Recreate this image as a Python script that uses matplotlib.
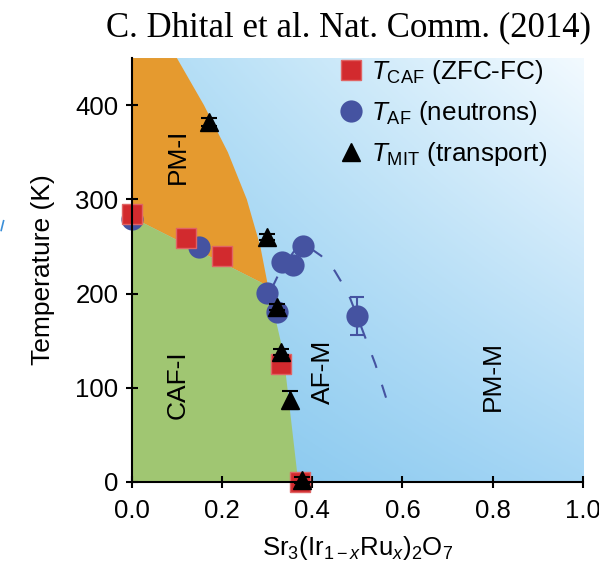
import numpy as np
import matplotlib
matplotlib.use('Agg')
import matplotlib.pyplot as plt
from matplotlib.lines import Line2D

plt.rcParams['font.family'] = ['Liberation Sans', 'DejaVu Sans']
plt.rcParams['mathtext.fontset'] = 'custom'
plt.rcParams['mathtext.rm'] = 'Liberation Sans'
plt.rcParams['mathtext.it'] = 'Liberation Sans:italic'

# T_CAF from ZFC-FC magnetization
x_caf = [0.0, 0.12, 0.2, 0.33, 0.373]
t_caf = [284, 259, 240, 125, 0]

# T_AF from neutrons
x_af = [0.0, 0.15, 0.30, 0.322, 0.333, 0.358, 0.38, 0.50]
t_af = [279, 249, 201, 180, 234, 230, 250, 176]
err_af = [0, 0, 0, 0, 0, 0, 0, 20]

# T_MIT from transport
x_mit = [0.171, 0.30, 0.322, 0.331, 0.35, 0.377]
t_mit = [382, 260, 186, 138, 87, 2]
err_mit = [4, 3, 3, 3, 10, 3]

# phase boundaries
x_pmi = [0.100, 0.160, 0.213, 0.255, 0.285, 0.302]   # PM-I / PM-M
t_pmi = [450, 400, 350, 300, 250, 208]
x_caf_b = [0.0, 0.302]                                 # CAF-I / PM-I
t_caf_b = [281, 208]
x_afm_b = [0.302, 0.336, 0.369]                        # CAF-I / AF-M
t_afm_b = [208, 137, 0]

# dashed AF dome
x_dome = [0.31, 0.33, 0.36, 0.39, 0.42, 0.45, 0.48, 0.51, 0.54, 0.57]
t_dome = [205, 225, 245, 250, 240, 224, 200, 163, 125, 80]

fig = plt.figure(figsize=(5.99, 5.69), dpi=100)
ax = fig.add_axes([0.220, 0.153, 0.753, 0.745])
ax.set_xlim(0, 1.0)
ax.set_ylim(0, 450)

# blue gradient background
u, v = np.meshgrid(np.linspace(0, 1, 200), np.linspace(0, 1, 200))
c00 = np.array([0.50, 0.77, 0.93])
c10 = np.array([0.65, 0.84, 0.96])
c01 = np.array([0.68, 0.86, 0.96])
c11 = np.array([0.95, 0.98, 1.00])
img = (c00 * ((1 - u) * (1 - v))[..., None] + c10 * (u * (1 - v))[..., None]
       + c01 * ((1 - u) * v)[..., None] + c11 * (u * v)[..., None])
ax.imshow(img, extent=[0, 1, 0, 450], origin='lower', aspect='auto', zorder=0)

# orange PM-I region
px = [0.0] + x_pmi + x_caf_b[::-1]
pt = [450] + t_pmi + t_caf_b[::-1]
ax.fill(px, pt, color='#e59a2f', lw=0, zorder=1)
# green CAF-I region
gx = [0.0] + x_caf_b + x_afm_b[1:]
gt = [0] + t_caf_b + t_afm_b[1:]
ax.fill(gx, gt, color='#a0c672', lw=0, zorder=1)

blue = '#4553a1'
ax.plot(x_dome, t_dome, color=blue, lw=1.5, ls=(0, (6.5, 8.5)), zorder=2)

ax.errorbar(x_af, t_af, yerr=err_af, fmt='none', ecolor=blue, elinewidth=1.5,
            capsize=5, capthick=1.5, zorder=3)
h_af, = ax.plot(x_af, t_af, 'o', color=blue, ms=16, mec='none', zorder=3,
                clip_on=False, label=r'$T_{\rm AF}$ (neutrons)')
h_caf, = ax.plot(x_caf, t_caf, 's', color='#d22a2e', ms=15, mec='#e06464', mew=1,
                 zorder=4, clip_on=False, label=r'$T_{\rm CAF}$ (ZFC-FC)')
ax.errorbar(x_mit, t_mit, yerr=err_mit, fmt='none', ecolor='black', elinewidth=1.5,
            capsize=6, capthick=1.5, zorder=5, clip_on=False)
h_mit, = ax.plot(x_mit, t_mit, '^', color='black', ms=13, zorder=5, clip_on=False,
                 label=r'$T_{\rm MIT}$ (transport)')

leg = ax.legend(handles=[h_caf, h_af, h_mit], loc='upper left',
                bbox_to_anchor=(0.461, 1.0), frameon=False, fontsize=18.8,
                handlelength=0.85, handletextpad=0.35, borderpad=0,
                labelspacing=0.5, borderaxespad=0)

# region labels
ax.text(0.102, 346, 'PM-I', rotation=90, fontsize=19, ha='center', va='center', zorder=6)
ax.text(0.102, 103, 'CAF-I', rotation=90, fontsize=19, ha='center', va='center', zorder=6)
ax.text(0.424, 117, 'AF-M', rotation=90, fontsize=19, ha='center', va='center', zorder=6)
ax.text(0.80, 112, 'PM-M', rotation=90, fontsize=19, ha='center', va='center', zorder=6)

for s in ['top', 'right']:
    ax.spines[s].set_visible(False)
for s in ['left', 'bottom']:
    ax.spines[s].set_linewidth(1.5)
    ax.spines[s].set_zorder(7)
ax.tick_params(direction='inout', length=9, width=1.5, labelsize=18.5, pad=5)
ax.tick_params(axis='x', pad=8)
ax.set_xticks([0.0, 0.2, 0.4, 0.6, 0.8, 1.0])
ax.set_xticklabels(['0.0', '0.2', '0.4', '0.6', '0.8', '1.0'])
ax.set_yticks([0, 100, 200, 300, 400])

ax.set_ylabel('Temperature (K)', fontsize=19, labelpad=15)
ax.set_xlabel(r'Sr$_3$(Ir$_{1-x}$Ru$_x$)$_2$O$_7$', fontsize=18.5, labelpad=8)

fig.text(0.581, 0.951, 'C. Dhital et al. Nat. Comm. (2014)', family='Liberation Serif',
         fontsize=25, ha='center', va='center')

# small stray mark at left edge
fig.add_artist(Line2D([0.002, 0.006], [0.595, 0.612], color='#3b8fd8', lw=1.2))

fig.savefig('out.png', dpi=100)
